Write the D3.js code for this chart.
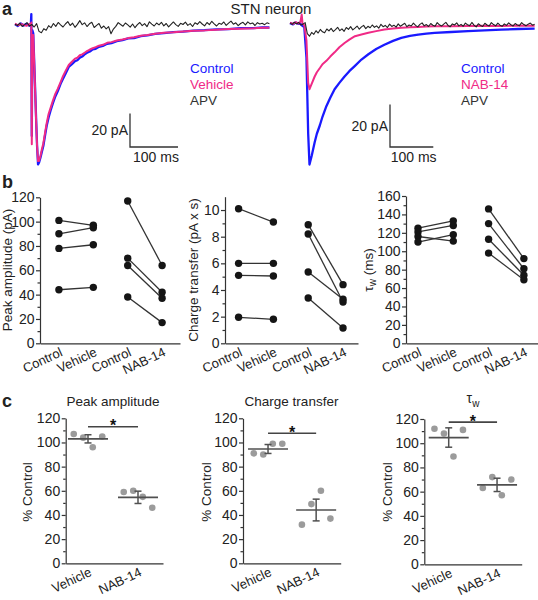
<!DOCTYPE html>
<html><head><meta charset="utf-8">
<script src="https://cdn.jsdelivr.net/npm/d3@7"></script>
<style>
body{margin:0;background:#fff}
svg{display:block;font-family:"Liberation Sans",Arial,Helvetica,sans-serif}
</style></head><body>
<svg id="fig" width="538" height="600"></svg>
<script>
// ================= DATA =================
// Panel a, left cell: time (ms) and current (pA)
const tLeft = [0,6,12,18,24,30,33,34,35,36,38,41,44,46,48,50,53,56,59,63,66,70,74,79,84,89,95,100,106,112,118,125,130,135,140,145,150,156,162,168,175,183,192,201,212,224,236,248,262,276,292,310,330,350,372,395,420,445,470,497,515,530];
const leftControl = [0.4,-0.6,0.9,-0.3,0.7,-0.4,0.2,6.5,-66,-3,-5,-30,-56,-72,-83,-82,-79,-75.5,-72,-65,-60,-55,-51,-46.5,-42.5,-39.5,-35,-32,-28.5,-25,-23.5,-21.5,-21,-19.5,-18.8,-17.5,-16.5,-15.8,-14.5,-14.2,-13,-12.5,-11.2,-10.8,-9.6,-9,-8,-7.8,-6.6,-6.2,-5.3,-4.8,-4.2,-4,-3.3,-3.1,-2.6,-2.5,-1.9,-1.9,-1.4,-1.5];
const leftVehicle = [0.8,-0.2,0.5,0.1,-0.5,0.6,0.3,1.5,-71,-6,-6,-31,-57,-72,-81,-81,-78,-74,-70.5,-63.5,-58.5,-53,-49.5,-45,-41,-38,-34,-30.5,-27,-23.8,-22,-20,-19.5,-18,-17.5,-16.5,-15.5,-14.6,-13.8,-13.2,-12.3,-11.8,-10.6,-10.2,-9.2,-8.6,-7.8,-7.3,-6.4,-5.9,-5.2,-4.6,-4.3,-3.8,-3.4,-3.2,-2.8,-2.4,-2.2,-2.0,-1.7,-1.6];
const apvDt = 5; // APV traces sampled every 5 ms
const leftAPV = [0.5,-0.3,1.1,-0.9,0.2,1.4,-0.6,0.3,-1.2,0.8,
  -3.8,-4.6,-2.2,-3.1,-0.4,-1.6,0.9,-0.8,1.5,0.1,
  -1.2,0.6,2.0,-0.3,1.1,-1.4,0.4,2.6,0.2,1.3,
  -0.9,0.7,1.6,-1.5,-0.2,0.9,-1.9,-0.6,-2.3,-1.0,
  -5.2,-2.4,-0.8,1.4,0.3,-0.7,1.2,0.1,-1.3,0.6,
  -1.6,0.2,1.5,-0.4,0.8,-1.0,1.9,0.5,-0.6,1.2,
  0.1,1.6,-0.5,0.9,-1.1,0.4,1.8,0.2,-0.8,1.0,
  0.3,1.7,-0.2,0.8,-0.9,1.3,0.4,2.0,0.6,-0.5,
  1.5,0.2,2.2,0.7,-0.6,1.0,0.4,1.8,-0.2,1.1,
  2.3,0.5,1.3,-0.4,0.9,1.6,0.1,1.9,0.7,1.2,
  -0.3,1.4,0.6,1.0,0.2,1.3,0.8];
// Panel a, right cell
const tRight = [0,7,13,20,24,27,29,33,38,42,45,50,57,62,69,75,84,93,103,114,126,137,150,165,181,199,218,238,257,277,296,315,334,372,411,449,488,526,565];
const rightControl = [0.2,-0.4,0.5,-0.2,0,-0.8,-1.2,-1.6,-16,-52,-66.5,-62.5,-56,-52,-48,-44,-39,-35,-31,-28,-25,-22.5,-20,-17,-14.5,-12,-10,-8.2,-6.8,-5.8,-5.2,-4.8,-4.4,-4,-3.6,-3.2,-2.9,-2.6,-2.4];
const rightNAB = [0.4,-0.2,0.6,0,0.8,4.2,0,-0.8,-8,-28,-31,-28.5,-25,-23,-21,-19.2,-17.6,-15.6,-13.6,-11.2,-9.2,-7.6,-6,-5.2,-4.4,-3.6,-2.8,-2.4,-2,-1.8,-1.6,-1.4,-1.3,-1.3,-1.2,-1.1,-1.2,-1.0,-1.1];
const rightAPV = [0.3,-0.4,0.6,-0.2,0.5,-0.7,-0.3,0.4,-4.8,-6.0,
  -4.2,-5.1,-3.4,-4.5,-2.8,-3.9,-4.4,-2.6,-3.5,-2.3,
  -3.8,-2.9,-1.8,-3.4,-2.5,-3.7,-1.9,-2.8,-1.5,-3.0,
  -2.2,-1.2,-2.7,-1.6,-0.9,-2.4,-1.3,-2.0,-0.7,-1.8,
  -1.1,-2.2,-0.4,-1.5,-0.9,-1.9,-0.3,-1.4,-0.8,-1.7,
  -0.2,-1.3,-0.6,0.1,-1.5,-0.7,-1.2,0.2,-0.9,-1.6,
  -0.4,0.3,-1.1,-0.5,-1.4,0.0,-0.8,-1.3,0.4,-0.6,
  -1.2,-0.3,0.5,-0.9,-1.5,-0.2,-0.7,0.3,-1.1,-0.4,
  -1.3,0.2,-0.6,-1.0,0.5,-0.8,-1.6,-0.1,-0.9,-1.4,
  0.1,-0.7,-1.2,0.4,-0.5,-1.1,0.2,-0.8,-1.3,-0.2,
  -0.9,0.3,-0.6,-1.2,0.0,-0.7,-1.0,0.4,-0.5,-1.1,
  -0.3,0.2,-0.8,-0.4];
const legendLeft = ["Control","Vehicle","APV"];
const legendRight = ["Control","NAB-14","APV"];

// Panel b: paired values
const pairCats = ["Control","Vehicle","Control","NAB-14"];
const peakCtrl1 = [101, 90, 78, 44];
const peakVeh   = [97, 95, 81, 46];
const peakCtrl2 = [117, 70, 64, 38];
const peakNAB   = [64, 42, 37, 17];
const chargeCtrl1 = [10.1, 6.0, 5.1, 1.95];
const chargeVeh   = [9.1, 6.0, 5.05, 1.8];
const chargeCtrl2 = [8.9, 8.2, 5.35, 3.4];
const chargeNAB   = [4.4, 3.1, 3.3, 1.15];
const tauCtrl1 = [125, 121, 116, 110];
const tauVeh   = [133, 128, 111, 118];
const tauCtrl2 = [146, 130, 113, 98];
const tauNAB   = [92, 81, 74, 69];

// Panel c: % of control
const groupCats = ["Vehicle","NAB-14"];
const pctPeakVeh = [107, 104, 96, 105];
const pctPeakNAB = [59, 60, 55, 46];
const pctPeakMean = [103, 54.6];
const pctPeakSem = [3.4, 5.1];
const pctChargeVeh = [91, 90, 99, 99];
const pctChargeNAB = [32, 49, 60, 37];
const pctChargeMean = [94.6, 44.1];
const pctChargeSem = [3.7, 9.0];
const pctTauVeh = [112, 108, 89, 111];
const pctTauNAB = [63, 72, 57, 70];
const pctTauMean = [104.7, 65.6];
const pctTauSem = [8.0, 5.5];
const sigLevels = [113, 107.6, 117.4];

// ================= DRAWING =================
const svg = d3.select("#fig");
const TXT = "#222", AX = "#333";
const BLUE = "#1a1aff", MAG = "#f02a86", BLK = "#222";

function label(x, y, s, size, opts = {}) {
  const t = svg.append("text").attr("x", x).attr("y", y).text(s)
    .attr("font-size", size).attr("fill", opts.fill || TXT);
  if (opts.anchor) t.attr("text-anchor", opts.anchor);
  if (opts.bold) t.attr("font-weight", "bold");
  return t;
}

// panel letters + title
label(2, 15, "a", 18, {bold: true});
label(2, 188, "b", 18, {bold: true});
label(2, 407, "c", 18, {bold: true});
label(271, 14, "STN neuron", 15, {anchor: "middle"});

// ---- panel a ----
function tracePanel(cfg) {
  const x = d3.scaleLinear().domain(cfg.tDom).range(cfg.xRange);
  const y = d3.scaleLinear().domain([0, -1]).range([cfg.base, cfg.base + cfg.pxPerPA]);
  const line = d3.line().x(d => x(d[0])).y(d => y(d[1]));
  cfg.series.forEach(s => {
    const pts = s.t ? s.t.map((t, i) => [t, s.v[i]]) : s.v.map((v, i) => [i * apvDt, v]);
    svg.append("path").datum(pts).attr("d", line).attr("fill", "none")
      .attr("stroke", s.color).attr("stroke-width", s.w).attr("stroke-linejoin", "round");
  });
  // scale bar
  const [cx, cy] = cfg.bar;
  const vLen = y(-20) - y(0), hLen = x(100) - x(0);
  svg.append("path").attr("d", `M${cx},${cy - vLen}V${cy}H${cx + hLen}`)
    .attr("fill", "none").attr("stroke", AX).attr("stroke-width", 1.3);
  label(cx - 2, cy - vLen / 2 + 5, "20 pA", 14, {anchor: "end"});
  label(cx + hLen / 2 + 2, cy + 15, "100 ms", 14, {anchor: "middle"});
  // legend
  cfg.legend.forEach((s, i) => label(cfg.legPos[0], cfg.legPos[1] + i * 16, s, 13.5, {fill: [BLUE, MAG, "#333"][i]}));
}

tracePanel({
  tDom: [0, 530], xRange: [15, 15 + 530 * 0.48], base: 25, pxPerPA: 1.68,
  series: [
    {t: tLeft, v: leftControl, color: BLUE, w: 2.3},
    {t: tLeft, v: leftVehicle, color: MAG, w: 2.0},
    {v: leftAPV, color: BLK, w: 1.1}
  ],
  bar: [130, 147], legend: legendLeft, legPos: [190, 73]
});
tracePanel({
  tDom: [0, 565], xRange: [290, 290 + 565 * 0.433], base: 23.5, pxPerPA: 2.12,
  series: [
    {t: tRight, v: rightControl, color: BLUE, w: 2.3},
    {t: tRight, v: rightNAB, color: MAG, w: 2.0},
    {v: rightAPV, color: BLK, w: 1.1}
  ],
  bar: [390, 147], legend: legendRight, legPos: [461, 73]
});

// ---- axis helpers ----
function styleAxis(g, size) {
  g.attr("font-family", null).attr("font-size", size);
  g.selectAll(".domain, line").attr("stroke", AX).attr("stroke-width", 1.2);
  g.selectAll("text").attr("fill", TXT);
}
function yAxis(scale, x, major, minor, fmt) {
  const g = svg.append("g").attr("transform", `translate(${x},0)`)
    .call(d3.axisLeft(scale).tickValues(major).tickSize(4).tickPadding(1.5).tickSizeOuter(0).tickFormat(fmt || d3.format("d")));
  styleAxis(g, 14);
  const m = svg.append("g").attr("transform", `translate(${x},0)`)
    .call(d3.axisLeft(scale).tickValues(minor).tickSize(2.5).tickFormat("").tickSizeOuter(0));
  m.select(".domain").remove();
  styleAxis(m, 14);
}
function xAxis(scale, y, ticks, names) {
  const g = svg.append("g").attr("transform", `translate(0,${y})`)
    .call(d3.axisBottom(scale).tickValues(ticks).tickSize(0).tickSizeOuter(0).tickFormat(i => names[i]));
  styleAxis(g, 13);
  g.selectAll("text").attr("x", 0).attr("y", 0).attr("dy", 0)
    .attr("text-anchor", "end").attr("transform", "translate(4,12) rotate(-25)");
}
function yTitle(x, y, parts) {
  const t = svg.append("text").attr("transform", `translate(${x},${y}) rotate(-90)`)
    .attr("text-anchor", "middle").attr("font-size", 13.5).attr("fill", TXT);
  parts.forEach(p => {
    const ts = t.append("tspan").text(p.s);
    if (p.sub) ts.attr("font-size", 10).attr("dy", 3);
    if (p.up) ts.attr("dy", -3);
  });
}

// ---- panel b ----
function pairedPanel(cfg) {
  const x = d3.scaleLinear().domain(cfg.xDom).range([cfg.x0, cfg.x1]);
  const y = d3.scaleLinear().domain([0, cfg.yMax]).range([343.3, cfg.yTop]);
  yAxis(y, cfg.x0, cfg.major, cfg.minor);
  xAxis(x, 343.3, [0, 1, 2, 3], pairCats);
  yTitle(cfg.titleX, 270, cfg.title);
  const pairs = [[0, cfg.a, cfg.b], [2, cfg.c, cfg.d]];
  pairs.forEach(([i0, A, B]) => {
    A.forEach((v, k) => {
      svg.append("line").attr("x1", x(i0)).attr("y1", y(v)).attr("x2", x(i0 + 1)).attr("y2", y(B[k]))
        .attr("stroke", "#333").attr("stroke-width", 1.3);
    });
    [[i0, A], [i0 + 1, B]].forEach(([ci, vals]) => {
      svg.selectAll(null).data(vals).enter().append("circle")
        .attr("cx", x(ci)).attr("cy", d => y(d)).attr("r", 3.7).attr("fill", "#151515");
    });
  });
}
pairedPanel({x0: 40, x1: 180, xDom: [-0.55, 3.52], yMax: 120, yTop: 197.3,
  major: d3.range(0, 121, 20), minor: d3.range(10, 120, 20),
  titleX: 11.5, title: [{s: "Peak amplitude (pA)"}],
  a: peakCtrl1, b: peakVeh, c: peakCtrl2, d: peakNAB});
pairedPanel({x0: 225, x1: 358, xDom: [-0.39, 3.43], yMax: 11, yTop: 196.7,
  major: d3.range(0, 11, 2), minor: d3.range(1, 11, 2),
  titleX: 197.5, title: [{s: "Charge transfer (pA x s)"}],
  a: chargeCtrl1, b: chargeVeh, c: chargeCtrl2, d: chargeNAB});
pairedPanel({x0: 406, x1: 538, xDom: [-0.34, 3.4], yMax: 160, yTop: 196,
  major: d3.range(0, 161, 20), minor: d3.range(10, 160, 20),
  titleX: 373, title: [{s: "τ"}, {s: "w", sub: true}, {s: " (ms)", up: true}],
  a: tauCtrl1, b: tauVeh, c: tauCtrl2, d: tauNAB});

// ---- panel c ----
function groupPanel(cfg) {
  const x = d3.scaleLinear().domain(cfg.xDom).range([cfg.x0, cfg.x1]);
  const y = d3.scaleLinear().domain([0, 120]).range([cfg.yBot, cfg.yTop]);
  yAxis(y, cfg.x0, d3.range(0, 121, 20), d3.range(10, 120, 20));
  xAxis(x, cfg.yBot, [0, 1], groupCats);
  yTitle(cfg.ytX, 492, [{s: "% Control"}]);
  [cfg.veh, cfg.nab].forEach((vals, i) => {
    svg.selectAll(null).data(vals).enter().append("circle")
      .attr("cx", (d, j) => x(i) + (j - 1.5) * 9.5).attr("cy", d => y(d))
      .attr("r", 3.3).attr("fill", "#9b9b9b");
    const m = cfg.mean[i], s = cfg.sem[i], g = "#505050";
    svg.append("line").attr("x1", x(i) - 20).attr("x2", x(i) + 20).attr("y1", y(m)).attr("y2", y(m))
      .attr("stroke", g).attr("stroke-width", 1.7);
    svg.append("line").attr("x1", x(i)).attr("x2", x(i)).attr("y1", y(m - s)).attr("y2", y(m + s))
      .attr("stroke", g).attr("stroke-width", 1.5);
    [m - s, m + s].forEach(v => svg.append("line").attr("x1", x(i) - 3.5).attr("x2", x(i) + 3.5)
      .attr("y1", y(v)).attr("y2", y(v)).attr("stroke", g).attr("stroke-width", 1.5));
  });
  const sy = y(cfg.sig);
  svg.append("line").attr("x1", x(0)).attr("x2", x(1)).attr("y1", sy).attr("y2", sy)
    .attr("stroke", "#444").attr("stroke-width", 1.6);
  label((x(0) + x(1)) / 2, sy + 4.5, "*", 16, {anchor: "middle", bold: true, fill: "#111"});
  if (cfg.titleParts) {
    const t = svg.append("text").attr("x", cfg.titleX).attr("y", cfg.titleY)
      .attr("text-anchor", "middle").attr("font-size", 14).attr("fill", TXT);
    cfg.titleParts.forEach(p => { const ts = t.append("tspan").text(p.s); if (p.sub) ts.attr("font-size", 10).attr("dy", 4); });
  } else {
    label(cfg.titleX, cfg.titleY, cfg.title, 13.5, {anchor: "middle"});
  }
}
groupPanel({x0: 65.7, x1: 163, xDom: [-0.446, 1.5], yBot: 563.3, yTop: 418.3, ytX: 31.5,
  veh: pctPeakVeh, nab: pctPeakNAB, mean: pctPeakMean, sem: pctPeakSem, sig: sigLevels[0],
  title: "Peak amplitude", titleX: 113, titleY: 406});
groupPanel({x0: 243, x1: 340.7, xDom: [-0.52, 1.51], yBot: 563.3, yTop: 418.3, ytX: 211,
  veh: pctChargeVeh, nab: pctChargeNAB, mean: pctChargeMean, sem: pctChargeSem, sig: sigLevels[1],
  title: "Charge transfer", titleX: 291.5, titleY: 406});
groupPanel({x0: 424.3, x1: 521.7, xDom: [-0.505, 1.51], yBot: 564.3, yTop: 419, ytX: 392,
  veh: pctTauVeh, nab: pctTauNAB, mean: pctTauMean, sem: pctTauSem, sig: sigLevels[2],
  titleParts: [{s: "τ"}, {s: "w", sub: true}], titleX: 473, titleY: 403});
</script>
</body></html>
